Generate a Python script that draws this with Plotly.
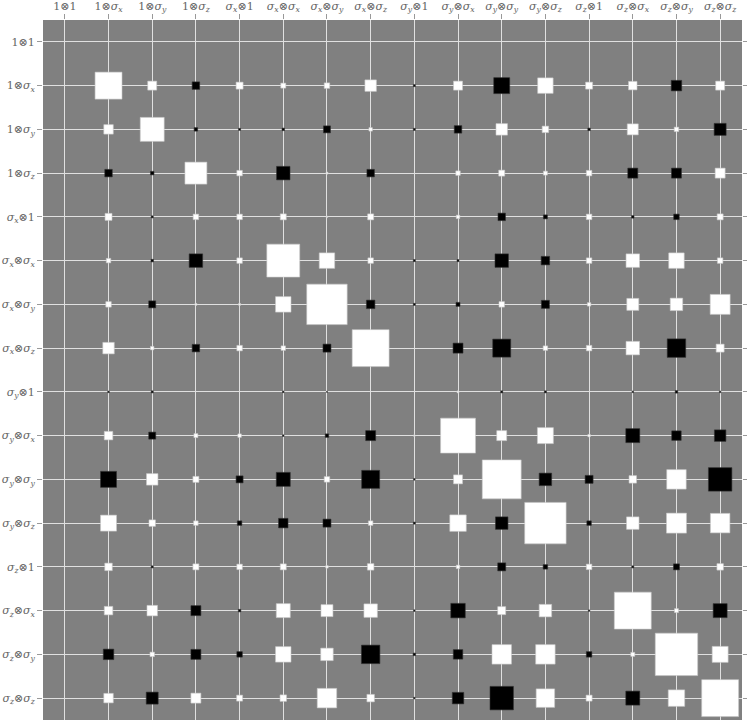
import plotly.graph_objects as go

# basis labels (rows / columns)
labels = ['1⊗1', '1⊗<i>σ<sub>x</sub></i>', '1⊗<i>σ<sub>y</sub></i>', '1⊗<i>σ<sub>z</sub></i>',
          '<i>σ<sub>x</sub></i>⊗1', '<i>σ<sub>x</sub></i>⊗<i>σ<sub>x</sub></i>',
          '<i>σ<sub>x</sub></i>⊗<i>σ<sub>y</sub></i>', '<i>σ<sub>x</sub></i>⊗<i>σ<sub>z</sub></i>',
          '<i>σ<sub>y</sub></i>⊗1', '<i>σ<sub>y</sub></i>⊗<i>σ<sub>x</sub></i>',
          '<i>σ<sub>y</sub></i>⊗<i>σ<sub>y</sub></i>', '<i>σ<sub>y</sub></i>⊗<i>σ<sub>z</sub></i>',
          '<i>σ<sub>z</sub></i>⊗1', '<i>σ<sub>z</sub></i>⊗<i>σ<sub>x</sub></i>',
          '<i>σ<sub>z</sub></i>⊗<i>σ<sub>y</sub></i>', '<i>σ<sub>z</sub></i>⊗<i>σ<sub>z</sub></i>']

# matrix values, one list per row
row0 = [0, 0, 0, 0, 0, 0, 0, 0, 0, 0, 0, 0, 0, 0, 0, 0]
row1 = [0, .27, .09, -.075, .07, .05, .055, .115, -.02, .09, -.16, .155, .07, .085, -.105, .09]
row2 = [0, .095, .24, -.035, -.02, -.025, -.07, .035, -.02, -.075, .115, .065, -.025, .11, .045, -.12]
row3 = [0, -.075, -.035, .22, .055, -.135, .02, -.075, 0, .045, .06, .04, .055, -.10, -.10, .10]
row4 = [0, .07, -.02, .055, .055, .06, .015, .06, 0, .035, -.075, -.04, .055, -.025, -.055, .06]
row5 = [0, .045, -.025, -.135, .055, .33, .155, .055, -.02, -.02, -.135, -.085, .055, .135, .155, .055]
row6 = [0, .055, -.07, .02, .02, .155, .405, -.085, -.02, -.04, .055, -.08, .035, .12, .125, .20]
row7 = [0, .115, .035, -.075, .055, .045, -.08, .37, 0, -.10, -.18, .045, .055, .135, -.185, .08]
row8 = [0, -.015, -.02, 0, 0, -.015, -.01, 0, 0, .02, -.02, -.02, 0, -.015, -.025, -.015]
row9 = [0, .085, -.07, .04, .035, -.015, -.035, -.10, .015, .35, .10, .16, .025, -.14, -.095, -.115]
row10 = [0, -.16, .115, .06, -.07, -.14, .055, -.18, -.015, .09, .39, -.125, -.08, .075, .195, -.235]
row11 = [0, .16, .065, .045, -.045, -.095, -.08, .045, -.02, .165, -.125, .415, -.045, .125, .20, .195]
row12 = [0, .075, -.02, .06, .055, .06, .025, .065, 0, .035, -.08, -.045, .055, -.02, -.06, .065]
row13 = [0, .085, .105, -.10, -.025, .14, .12, .135, -.015, -.145, .08, .125, -.015, .37, .04, -.14]
row14 = [0, -.105, .045, -.10, -.055, .155, .125, -.185, -.025, -.095, .195, .195, -.055, .04, .425, .16]
row15 = [0, .095, -.12, .10, .06, .065, .195, .075, -.015, -.115, -.235, .185, .06, -.14, .165, .37]

rows = [row0, row1, row2, row3, row4, row5, row6, row7,
        row8, row9, row10, row11, row12, row13, row14, row15]

vmax = max(abs(v) for r in rows for v in r)
n = len(labels)

fig = go.Figure()
# invisible trace so the axes exist
fig.add_trace(go.Scatter(x=[0, n - 1], y=[0, n - 1], mode='markers',
                         marker=dict(opacity=0), hoverinfo='skip', showlegend=False))

shapes = []
for i, r in enumerate(rows):
    for j, v in enumerate(r):
        if v == 0:
            continue
        h = abs(v) / vmax * 0.97 / 2
        col = 'white' if v > 0 else 'black'
        shapes.append(dict(type='rect', xref='x', yref='y',
                           x0=j - h, x1=j + h, y0=i - h, y1=i + h,
                           fillcolor=col, line=dict(width=0.6, color='#c8c8c8' if v > 0 else '#303030')))

fig.update_layout(
    shapes=shapes,
    width=747, height=721,
    margin=dict(l=43, r=5, t=20, b=1),
    plot_bgcolor='#808080',
    paper_bgcolor='white',
    font=dict(family='DejaVu Serif, serif', size=11, color='#666666'),
)
fig.update_xaxes(side='top', range=[-0.5, n - 0.5], tickvals=list(range(n)), ticktext=labels,
                 tickangle=0, showgrid=True, gridcolor='#e0e0e0', gridwidth=1,
                 ticks='outside', ticklen=5, tickcolor='#999999', zeroline=False,
                 showline=False, mirror='ticks', automargin=False)
fig.update_yaxes(range=[n - 0.5, -0.5], tickvals=list(range(n)), ticktext=labels,
                 showgrid=True, gridcolor='#e0e0e0', gridwidth=1,
                 ticks='outside', ticklen=5, tickcolor='#999999', zeroline=False,
                 showline=False, mirror='ticks', automargin=False)

# drop the default 8px page margin so the figure fills the window
fig.write_html("out.html", config={'displayModeBar': False},
               post_script="document.body.style.margin='0';")
